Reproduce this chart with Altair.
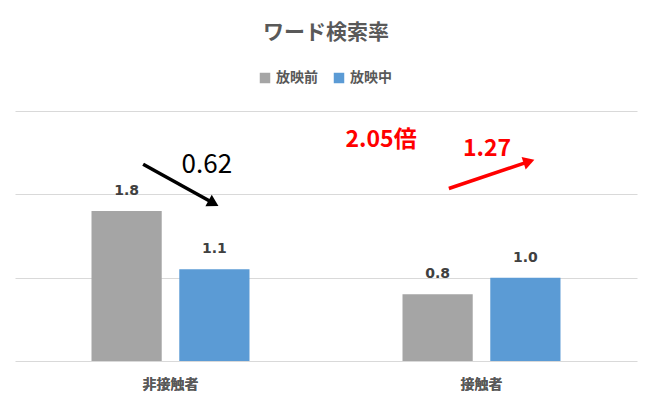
import altair as alt
import pandas as pd

groups = ["非接触者", "接触者"]
series = ["放映前", "放映中"]
before = [1.8, 0.8]
during = [1.1, 1.0]
colors = ["#a5a5a5", "#5b9bd5"]

# annotation arrows (in data units: x 0..2 across the two categories, y = rate)
arrow_x = [0.412, 1.395]
arrow_y = [2.36, 2.07]
arrow_x2 = [0.633, 1.647]
arrow_y2 = [1.905, 2.387]
arrow_angle = [119, 71.6]
arrow_color = ["#000000", "#ff0000"]

note_black_text = ["0.62"]
note_black_x = [0.617]
note_black_y = [2.35]

note_red_text = ["2.05倍", "1.27"]
note_red_x = [1.177, 1.518]
note_red_y = [2.65, 2.55]

FONT = "Noto Sans CJK JP"

rows = []
for g, b, d in zip(groups, before, during):
    rows.append({"group": g, "series": series[0], "value": b})
    rows.append({"group": g, "series": series[1], "value": d})
df = pd.DataFrame(rows)

arrows = pd.DataFrame({"x": arrow_x, "y": arrow_y, "x2": arrow_x2, "y2": arrow_y2,
                       "angle": arrow_angle, "color": arrow_color})
nb = pd.DataFrame({"t": note_black_text, "x": note_black_x, "y": note_black_y})
nr = pd.DataFrame({"t": note_red_text, "x": note_red_x, "y": note_red_y})

yscale = alt.Scale(domain=[0, 3])
xq = alt.Scale(domain=[0, 2])
yaxis = alt.Axis(values=[0, 1, 2, 3], labels=False, ticks=False, domain=False,
                 grid=True, gridColor="#d9d9d9", gridWidth=1.2, orient="left")

base = alt.Chart(df).encode(
    x=alt.X("group:N", sort=groups, title=None,
            scale=alt.Scale(paddingInner=0.492, paddingOuter=0.246),
            axis=alt.Axis(orient="bottom", labelAngle=0, ticks=False, domain=False,
                          grid=False, labelPadding=16, labelFont=FONT, labelFontSize=14,
                          labelFontWeight="bold", labelColor="#595959")),
    xOffset=alt.XOffset("series:N", sort=series,
                        scale=alt.Scale(paddingInner=0.2, paddingOuter=0)),
    y=alt.Y("value:Q", scale=yscale, title=None, axis=yaxis),
)

bars = base.mark_bar().encode(
    color=alt.Color("series:N", sort=series,
                    scale=alt.Scale(domain=series, range=colors),
                    legend=alt.Legend(title=None, orient="none", direction="horizontal",
                                      legendX=243, legendY=-40, symbolType="square",
                                      symbolSize=110, symbolStrokeWidth=0,
                                      labelFont=FONT, labelFontSize=14,
                                      labelFontWeight="bold", labelColor="#595959",
                                      columnPadding=14, labelOffset=4))
)

labels = base.mark_text(baseline="bottom", dy=-13, font="DejaVu Sans", fontSize=14,
                        fontWeight="bold", color="#404040").encode(
    text=alt.Text("value:Q", format=".1f")
)

arrow_lines = alt.Chart(arrows).mark_rule(strokeWidth=3.5).encode(
    x=alt.X("x:Q", scale=xq, axis=None),
    x2="x2:Q",
    y=alt.Y("y:Q", scale=yscale, title=None, axis=yaxis),
    y2="y2:Q",
    color=alt.Color("color:N", scale=None),
)

arrow_heads = alt.Chart(arrows).mark_point(shape="triangle", filled=True, size=170,
                                           opacity=1).encode(
    x=alt.X("x2:Q", scale=xq, axis=None),
    y=alt.Y("y2:Q", scale=yscale, title=None, axis=yaxis),
    angle=alt.Angle("angle:Q", scale=None),
    color=alt.Color("color:N", scale=None),
)

text_black = alt.Chart(nb).mark_text(font=FONT, fontSize=26, color="#000000").encode(
    x=alt.X("x:Q", scale=xq, axis=None),
    y=alt.Y("y:Q", scale=yscale, title=None, axis=yaxis),
    text="t:N",
)

text_red = alt.Chart(nr).mark_text(font=FONT, fontSize=23, fontWeight="bold",
                                   color="#ff0000").encode(
    x=alt.X("x:Q", scale=xq, axis=None),
    y=alt.Y("y:Q", scale=yscale, title=None, axis=yaxis),
    text="t:N",
)

chart = alt.layer(bars, labels, arrow_lines, arrow_heads, text_black, text_red).resolve_scale(
    x="independent"
).properties(
    width=622, height=250,
    background="white",
    padding={"left": 7, "right": 5, "top": 14, "bottom": 5},
    title=alt.TitleParams("ワード検索率", font=FONT, fontSize=21, fontWeight="bold",
                          color="#595959", anchor="middle", offset=28),
).configure_view(stroke="transparent", strokeWidth=0)

chart.save("out.html", embed_options={"renderer": "svg", "actions": False})
